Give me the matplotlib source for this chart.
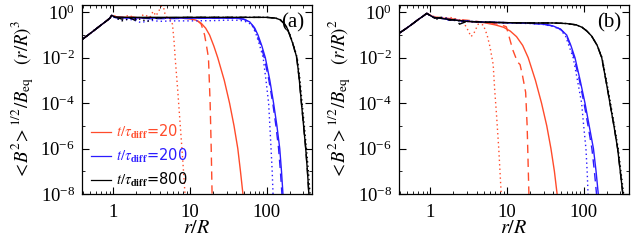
import matplotlib
matplotlib.use("Agg")
import matplotlib.pyplot as plt
from matplotlib.lines import Line2D
from matplotlib.ticker import LogLocator, FixedLocator, NullFormatter

plt.rcParams["font.family"] = "Liberation Serif"
plt.rcParams["mathtext.fontset"] = "stix"

RED = "#ff4b2b"
BLUE = "#2b1bff"
BLACK = "black"

# ---- panel (a): <B^2>^1/2/B_eq (r/R)^3 ----
rise_a_r = [0.4, 0.5, 0.6, 0.7, 0.8, 0.9, 0.95]
rise_a_v = [0.067, 0.118, 0.19, 0.285, 0.40, 0.55, 0.74]

a20_solid_r = [1.05, 1.5, 2, 3, 5, 8, 10, 12, 14, 16, 18, 20.5, 23, 28, 32.8, 37.5, 42, 45.5, 49]
a20_solid_v = [0.62, 0.6, 0.57, 0.58, 0.57, 0.55, 0.52, 0.45, 0.33, 0.2, 0.1, 0.032, 0.01, 1e-3, 1e-4, 1e-5, 1e-6, 1e-7, 1e-8]
a20_dash_r = [1.05, 1.4, 1.8, 2.3, 3, 4, 6, 9, 12, 14, 15.5, 16.5, 17.4, 18.3, 18.9, 19.4]
a20_dash_v = [0.65, 0.58, 0.62, 0.55, 0.6, 0.58, 0.56, 0.55, 0.5, 0.3, 0.1, 0.03, 0.01, 1e-4, 1e-6, 1e-8]
a20_dot_r = [1.05, 1.3, 1.6, 2, 2.5, 3, 3.3, 3.6, 4, 4.4, 4.7, 5.0, 5.3, 5.6, 5.9, 6.2, 6.4, 6.9, 7.4, 8.0, 8.6]
a20_dot_v = [0.7, 0.55, 0.75, 0.5, 0.8, 0.6, 1.1, 0.7, 1.3, 2.5, 0.9, 0.6, 0.5, 0.45, 0.3, 0.05, 0.01, 4e-4, 1.5e-5, 4e-7, 1e-8]

a200_solid_r = [1.05, 1.5, 2, 3, 5, 10, 20, 30, 40, 50, 60, 70, 77, 86, 96, 110, 123, 136, 148, 156, 163]
a200_solid_v = [0.6, 0.55, 0.57, 0.55, 0.56, 0.55, 0.55, 0.55, 0.55, 0.5, 0.38, 0.2, 0.1, 0.035, 0.01, 1e-3, 1e-4, 1e-5, 1e-6, 1e-7, 1e-8]
a200_dash_r = [1.05, 1.5, 2, 2.5, 3, 5, 10, 20, 30, 40, 50, 60, 68, 75, 84, 93, 107, 120, 132, 143, 151, 158]
a200_dash_v = [0.58, 0.6, 0.5, 0.55, 0.52, 0.53, 0.54, 0.55, 0.55, 0.55, 0.5, 0.38, 0.22, 0.1, 0.035, 0.01, 1e-3, 1e-4, 1e-5, 1e-6, 1e-7, 1e-8]
a200_dot_r = [1.05, 1.3, 1.6, 2, 2.3, 3, 4, 6, 10, 20, 30, 40, 50, 58, 65, 72, 80, 90, 98, 106, 110, 114, 118, 121]
a200_dot_v = [0.55, 0.45, 0.5, 0.42, 0.35, 0.45, 0.4, 0.42, 0.42, 0.43, 0.45, 0.45, 0.42, 0.35, 0.25, 0.12, 0.04, 0.01, 1e-3, 1e-4, 1e-5, 1e-6, 1e-7, 1e-8]

a800_solid_r = [1.05, 1.5, 2, 3, 5, 10, 30, 60, 100, 130, 150, 170, 185, 200, 225, 247, 265, 284, 303, 323, 340, 355]
a800_solid_v = [0.62, 0.6, 0.6, 0.6, 0.6, 0.6, 0.6, 0.6, 0.6, 0.56, 0.47, 0.32, 0.2, 0.1, 0.032, 0.01, 1.3e-3, 1e-4, 1e-5, 1e-6, 1e-7, 1e-8]
a800_dash_r = [1.05, 1.3, 1.6, 1.9, 2.3, 3, 5, 10, 30, 60, 100, 130, 150, 170, 185, 200, 225, 247, 265, 284, 303, 323, 340, 355]
a800_dash_v = [0.62, 0.5, 0.6, 0.45, 0.58, 0.56, 0.58, 0.6, 0.6, 0.6, 0.6, 0.55, 0.46, 0.31, 0.19, 0.1, 0.03, 9e-3, 1.2e-3, 1e-4, 1e-5, 1e-6, 1e-7, 1e-8]
a800_dot_r = [1.05, 1.3, 1.7, 2.2, 2.8, 3.5, 5, 10, 30, 60, 100, 130, 150, 170, 185, 200, 225, 250, 270, 290, 310, 330, 350, 368]
a800_dot_v = [0.6, 0.42, 0.55, 0.5, 0.4, 0.55, 0.57, 0.6, 0.6, 0.6, 0.6, 0.56, 0.48, 0.33, 0.21, 0.11, 0.035, 0.01, 1.3e-3, 1e-4, 1e-5, 1e-6, 1e-7, 1e-8]

# ---- panel (b): <B^2>^1/2/B_eq (r/R)^2 ----
rise_b_r = [0.4, 0.5, 0.6, 0.7, 0.8, 0.9]
rise_b_v = [0.126, 0.21, 0.33, 0.49, 0.67, 0.9]

b20_solid_r = [1.0, 1.1, 1.5, 2, 3, 5, 7, 9, 11, 13.3, 16, 18.9, 23.5, 28.2, 33, 37.4, 41.5, 45]
b20_solid_v = [0.75, 0.62, 0.55, 0.48, 0.4, 0.35, 0.28, 0.22, 0.15, 0.085, 0.035, 0.01, 1e-3, 1e-4, 1e-5, 1e-6, 1e-7, 1e-8]
b20_dash_r = [1.0, 1.1, 1.5, 2, 3, 4, 6, 8, 9.8, 11.9, 13.7, 14.8, 16, 17.5, 18.3, 18.8, 19.3]
b20_dash_v = [0.72, 0.6, 0.58, 0.5, 0.45, 0.4, 0.34, 0.3, 0.23, 0.022, 6.5e-3, 5e-3, 1.5e-3, 3e-4, 1e-5, 3e-7, 1e-8]
b20_dot_r = [1.0, 1.2, 1.5, 1.8, 2.2, 2.6, 3.0, 3.4, 3.7, 4.2, 4.9, 5.5, 6.0, 6.6, 6.9, 7.3, 7.8, 8.4]
b20_dot_v = [0.75, 0.6, 0.55, 0.6, 0.5, 0.45, 0.2, 0.085, 0.12, 0.3, 0.28, 0.1, 0.03, 5e-3, 4e-4, 3e-5, 1e-6, 1e-8]

b200_solid_r = [1.0, 1.1, 1.5, 2, 3, 5, 10, 20, 30, 40, 50, 60, 68, 77, 90, 104, 118, 134, 145, 155]
b200_solid_v = [0.72, 0.6, 0.52, 0.46, 0.4, 0.37, 0.35, 0.33, 0.3, 0.25, 0.18, 0.1, 0.035, 0.01, 1e-3, 1e-4, 1e-5, 1e-6, 1e-7, 1e-8]
b200_dash_r = [1.0, 1.1, 1.4, 1.7, 2.1, 2.5, 3, 5, 10, 20, 30, 40, 50, 59, 67, 75, 88, 101, 114, 128, 138, 147]
b200_dash_v = [0.72, 0.58, 0.55, 0.45, 0.48, 0.38, 0.42, 0.37, 0.35, 0.33, 0.3, 0.25, 0.18, 0.1, 0.035, 0.01, 1e-3, 1e-4, 1e-5, 1e-6, 1e-7, 1e-8]
b200_dot_r = [1.0, 1.2, 1.5, 1.8, 2.2, 2.6, 3, 5, 10, 20, 30, 40, 50, 58, 65, 73, 83, 94, 100, 107, 111, 114]
b200_dot_v = [0.7, 0.55, 0.6, 0.5, 0.42, 0.45, 0.4, 0.36, 0.34, 0.32, 0.29, 0.24, 0.17, 0.09, 0.03, 0.01, 1e-3, 1e-4, 1e-5, 1e-6, 1e-7, 1e-8]

b800_solid_r = [1.0, 1.1, 1.5, 2, 3, 5, 10, 20, 40, 60, 80, 95, 110, 127, 150, 172, 195, 220, 248, 277, 300, 324]
b800_solid_v = [0.72, 0.6, 0.52, 0.46, 0.4, 0.37, 0.35, 0.34, 0.34, 0.32, 0.28, 0.22, 0.15, 0.09, 0.035, 0.01, 1e-3, 1e-4, 1e-5, 1e-6, 1e-7, 1e-8]
b800_dash_r = [1.0, 1.1, 1.4, 1.8, 2.2, 2.4, 3, 5, 10, 20, 40, 60, 80, 95, 110, 127, 150, 172, 195, 220, 248, 277, 300, 324]
b800_dash_v = [0.72, 0.55, 0.6, 0.45, 0.5, 0.3, 0.4, 0.37, 0.35, 0.34, 0.34, 0.32, 0.28, 0.22, 0.15, 0.09, 0.035, 0.01, 1e-3, 1e-4, 1e-5, 1e-6, 1e-7, 1e-8]
b800_dot_r = [1.0, 1.2, 1.5, 1.9, 2.5, 3, 5, 10, 20, 40, 60, 80, 95, 110, 127, 150, 174, 198, 224, 252, 282, 306, 332]
b800_dot_v = [0.7, 0.5, 0.58, 0.45, 0.42, 0.4, 0.37, 0.35, 0.34, 0.34, 0.32, 0.28, 0.22, 0.15, 0.09, 0.035, 0.01, 1e-3, 1e-4, 1e-5, 1e-6, 1e-7, 1e-8]

legend_labels = [r"$t/\tau_{\mathbf{diff}}$=20", r"$t/\tau_{\mathbf{diff}}$=200", r"$t/\tau_{\mathbf{diff}}$=800"]

fig = plt.figure(figsize=(6.34, 2.46), dpi=100)
ax_a = fig.add_axes([82 / 634, 52 / 246, 230 / 634, 189 / 246])
ax_b = fig.add_axes([399 / 634, 52 / 246, 230 / 634, 189 / 246])

curves_a = [
    (a20_solid_r, a20_solid_v, RED, "-"), (a20_dash_r, a20_dash_v, RED, "--"), (a20_dot_r, a20_dot_v, RED, ":"),
    (a200_solid_r, a200_solid_v, BLUE, "-"), (a200_dash_r, a200_dash_v, BLUE, "--"), (a200_dot_r, a200_dot_v, BLUE, ":"),
    (a800_solid_r, a800_solid_v, BLACK, "-"), (a800_dash_r, a800_dash_v, BLACK, "--"), (a800_dot_r, a800_dot_v, BLACK, ":"),
]
curves_b = [
    (b20_solid_r, b20_solid_v, RED, "-"), (b20_dash_r, b20_dash_v, RED, "--"), (b20_dot_r, b20_dot_v, RED, ":"),
    (b200_solid_r, b200_solid_v, BLUE, "-"), (b200_dash_r, b200_dash_v, BLUE, "--"), (b200_dot_r, b200_dot_v, BLUE, ":"),
    (b800_solid_r, b800_solid_v, BLACK, "-"), (b800_dash_r, b800_dash_v, BLACK, "--"), (b800_dot_r, b800_dot_v, BLACK, ":"),
]

for ax, curves, rise_r, rise_v, power, tag in [(ax_a, curves_a, rise_a_r, rise_a_v, 3, "(a)"),
                                               (ax_b, curves_b, rise_b_r, rise_b_v, 2, "(b)")]:
    for r, v, c, ls in curves:
        dashes = {"-": None, "--": (6, 4), ":": (1, 2.2)}[ls]
        line, = ax.plot(rise_r + r, rise_v + v, color=c, lw=1.0)
        if dashes is not None:
            line.set_dashes(dashes)
    ax.set_xscale("log")
    ax.set_yscale("log")
    ax.set_xlim(0.39, 390)
    ax.set_ylim(1e-8, 2.1)
    ax.yaxis.set_major_locator(FixedLocator([1e-8, 1e-6, 1e-4, 1e-2, 1e0]))
    ax.yaxis.set_minor_locator(FixedLocator([1e-7, 1e-5, 1e-3, 1e-1]))
    ax.yaxis.set_minor_formatter(NullFormatter())
    ax.xaxis.set_major_locator(FixedLocator([1, 10, 100]))
    ax.xaxis.set_major_formatter(plt.FuncFormatter(lambda x, p: "%d" % x))
    ax.xaxis.set_minor_locator(LogLocator(base=10, subs=range(2, 10), numticks=20))
    ax.xaxis.set_minor_formatter(NullFormatter())
    ax.tick_params(which="both", direction="in", top=True, right=True, labelsize=13.5)
    ax.tick_params(which="major", length=5, width=0.8)
    ax.tick_params(which="minor", length=2.5, width=0.6)
    ax.tick_params(axis="x", pad=7)
    ax.tick_params(axis="y", pad=5)
    for s in ax.spines.values():
        s.set_linewidth(0.9)
    ax.set_xlabel(r"$r/R$", fontsize=14.5, labelpad=-1)
    ax.set_ylabel(r"$<\!B^2\!>^{1/2}/B_{\rm eq}\ \ \ (r/R)^%d$" % power, fontsize=13.5, labelpad=3)
    ax.text(0.965, 0.955, tag, transform=ax.transAxes, ha="right", va="top", fontsize=15)

handles = [Line2D([], [], color=RED, lw=0.9), Line2D([], [], color=BLUE, lw=0.9), Line2D([], [], color=BLACK, lw=0.9)]
leg = ax_a.legend(handles, legend_labels, loc="lower left", bbox_to_anchor=(0.0, -0.02), frameon=False,
                  handlelength=1.4, handletextpad=0.3, labelspacing=0.4, borderaxespad=0.2,
                  prop={"family": "DejaVu Sans", "size": 10.5}, labelcolor=[RED, BLUE, BLACK])

fig.savefig("out.png", dpi=100)
